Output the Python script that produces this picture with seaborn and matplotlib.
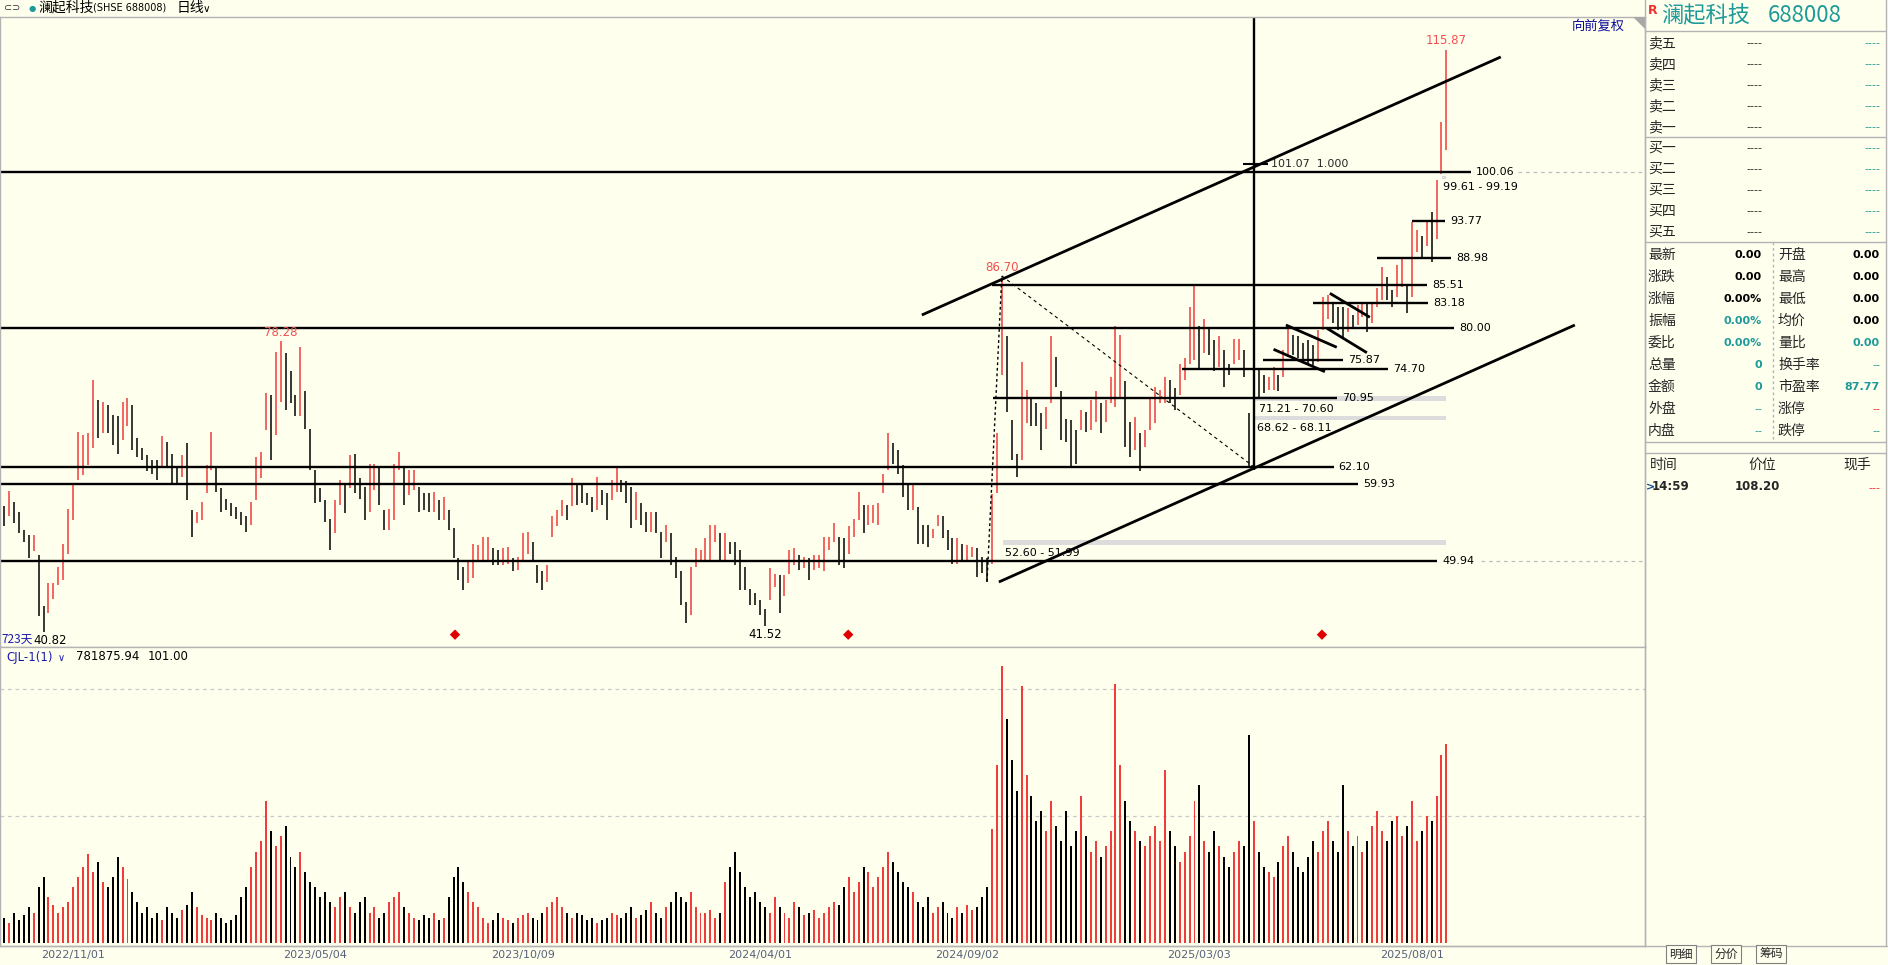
import numpy as np
import pandas as pd
import matplotlib
matplotlib.use("Agg")
import matplotlib.pyplot as plt
from matplotlib.lines import Line2D
from matplotlib.patches import Polygon
import seaborn as sns

# ---------------- data ----------------
lows = [
    54.4, 55.7, 54.8, 53.5, 52.4, 50.3, 51.2, 42.8, 40.82, 43.2, 45.1, 46.9, 47.5, 50.9, 55.2, 60.4, 61.0, 62.3, 64.5, 65.8,
    66.4, 66.4, 64.9, 63.8, 65.5, 67.3, 64.3, 63.4, 63.0, 61.5, 61.2, 60.4, 62.1, 61.9, 60.0, 59.7, 60.8, 57.8, 53.1, 54.8,
    55.2, 58.7, 61.7, 58.9, 56.3, 56.5, 55.7, 55.4, 54.6, 53.7, 54.6, 57.8, 60.6, 66.8, 63.0, 66.2, 70.5, 69.4, 70.3, 68.6,
    68.6, 67.0, 61.7, 57.4, 57.6, 55.0, 51.4, 53.5, 57.2, 56.1, 59.3, 58.7, 58.0, 55.2, 56.3, 59.1, 57.2, 53.9, 53.9, 55.2,
    61.7, 57.2, 58.5, 59.1, 56.3, 56.5, 56.3, 56.3, 55.2, 55.2, 53.9, 50.3, 47.5, 46.2, 47.1, 47.7, 50.1, 50.1, 50.1, 49.4,
    49.4, 49.4, 49.6, 48.6, 48.8, 50.1, 50.9, 50.1, 47.1, 46.2, 47.3, 53.1, 54.4, 55.7, 55.2, 57.0, 57.2, 57.4,
    57.2, 56.3, 56.5, 57.2, 55.2, 57.8, 58.9, 58.9, 57.4, 54.2, 55.2, 54.6, 53.7, 53.7, 53.5, 50.3, 52.4, 49.4, 47.7, 44.3,
    41.9, 43.0, 49.2, 50.1, 50.1, 50.1, 52.4, 50.1, 50.1, 50.9, 49.4, 46.2, 46.2, 44.3, 44.3, 43.0, 41.52, 44.9, 46.6, 43.2,
    45.4, 48.3, 49.4, 48.8, 49.0, 47.5, 48.8, 49.0, 48.6, 51.4, 52.4, 49.4, 49.0, 50.9, 53.1, 55.2, 53.5, 54.6,
    54.8, 54.6, 58.7, 61.7, 62.5, 61.2, 58.2, 56.5, 56.5, 52.2, 52.2, 51.8, 52.9, 54.4, 52.9, 51.4, 49.6, 49.6, 49.9, 50.1,
    50.5, 47.9, 48.4, 47.3, 49.6, 58.7, 73.9, 69.2, 63.0, 60.8, 63.0, 67.7, 67.3, 67.3, 64.3, 67.0, 70.3, 72.4, 65.5, 65.3,
    62.1, 62.5, 66.8, 66.6, 66.8, 67.9, 66.4, 67.9, 70.3, 69.8, 71.1, 64.7, 63.4, 64.3, 61.5, 64.7, 66.8, 67.7, 70.3, 70.3,
    70.3, 69.4, 71.3, 73.3, 75.4, 75.9, 74.6, 76.7, 76.5, 74.4, 75.0, 72.4, 73.9, 75.4, 75.9, 73.7, 62.1, 72.6, 71.1, 71.6,
    72.0, 72.0, 71.8, 73.7, 76.3, 76.5, 76.1, 75.9, 75.4, 75.2, 75.6, 79.7, 81.2, 80.6, 79.7, 78.6, 79.5, 79.9, 80.4, 81.4,
    79.5, 80.6, 82.7, 83.6, 83.6, 82.7, 84.0, 85.3, 81.9, 84.0, 89.8, 89.0, 90.5, 88.5, 91.4, 99.9, 102.9,
]
highs = [
    57.0, 59.0, 57.6, 56.3, 54.0, 53.3, 53.3, 50.7, 44.1, 47.1, 47.1, 49.2, 52.2, 56.7, 59.7, 66.6, 66.2, 66.4, 73.3, 70.7,
    70.5, 70.1, 68.8, 68.6, 70.5, 70.9, 70.1, 65.8, 64.5, 63.6, 63.0, 63.0, 66.0, 65.3, 63.8, 62.1, 63.6, 65.1, 56.5, 56.3,
    57.6, 62.3, 66.6, 61.9, 59.3, 58.0, 57.4, 56.9, 56.3, 55.7, 57.6, 63.4, 64.0, 71.6, 71.3, 76.9, 78.28, 76.7, 74.4, 71.3,
    77.6, 71.8, 67.0, 61.7, 59.3, 57.8, 55.4, 57.8, 60.4, 60.0, 63.6, 63.8, 60.6, 59.5, 62.5, 62.5, 62.1, 56.5, 56.7, 62.5,
    64.0, 62.1, 61.7, 61.7, 59.5, 58.7, 58.7, 58.9, 57.8, 58.2, 56.5, 54.2, 50.3, 49.2, 50.1, 52.2, 52.0, 53.1, 53.1, 51.6,
    51.4, 51.6, 51.8, 50.3, 50.5, 53.5, 53.7, 52.4, 49.4, 48.6, 49.4, 55.7, 56.5, 57.8, 57.2, 60.6, 60.0, 59.7,
    58.7, 58.2, 60.8, 59.1, 58.7, 60.4, 62.1, 60.4, 60.2, 59.5, 58.9, 57.4, 56.3, 56.3, 56.3, 53.7, 54.6, 53.5, 50.5, 48.6,
    44.7, 49.2, 51.6, 51.4, 52.9, 54.6, 54.6, 53.5, 53.5, 52.4, 52.4, 51.4, 49.2, 46.4, 45.8, 44.9, 43.8, 49.0, 48.3, 48.1,
    48.1, 51.4, 51.6, 50.7, 50.5, 50.3, 50.7, 50.7, 53.1, 53.1, 54.8, 53.1, 52.9, 54.4, 55.4, 58.9, 57.2, 57.2,
    57.2, 57.4, 61.2, 66.4, 65.1, 64.2, 62.3, 59.7, 59.9, 56.9, 54.6, 54.6, 54.1, 55.9, 55.7, 54.0, 52.9, 52.9, 52.2, 52.0,
    51.8, 51.6, 50.5, 50.3, 58.6, 66.4, 86.7, 78.9, 68.1, 63.8, 75.6, 72.0, 71.1, 70.3, 69.0, 69.8, 78.9, 76.3, 71.8, 68.3,
    68.1, 66.8, 69.4, 69.2, 70.7, 71.8, 70.3, 70.7, 73.7, 80.2, 79.1, 73.1, 67.9, 68.5, 66.4, 66.8, 71.1, 72.4, 72.0, 73.7,
    73.3, 72.2, 75.4, 76.1, 82.7, 85.5, 80.2, 81.2, 79.9, 78.4, 78.9, 77.1, 75.4, 78.6, 78.6, 77.1, 69.0, 75.6, 74.6, 73.9,
    73.7, 75.0, 73.9, 77.1, 80.2, 79.1, 78.9, 78.0, 78.4, 77.8, 79.7, 84.0, 84.2, 83.2, 82.7, 82.7, 82.5, 81.7, 83.0, 83.2,
    83.2, 83.4, 85.1, 87.9, 86.6, 84.9, 88.1, 89.0, 85.7, 93.7, 92.6, 91.8, 93.7, 95.0, 99.1, 106.6, 115.87,
]
# volume, in units of 10,000 shares
volumes = [
    10, 8, 12, 9, 11, 14, 12, 22, 26, 18, 15, 12, 14, 16,
    22, 26, 30, 35, 28, 32, 24, 22, 26, 34, 30, 25, 20,
    16, 12, 14, 10, 12, 9, 14, 12, 10, 13, 15, 20, 14, 11, 10, 9, 12, 10, 8, 9, 11,
    18, 22, 30, 36, 40,
    56, 44, 38, 42, 46, 34, 30,
    36, 28, 24, 22, 18, 20, 16, 14, 18, 20,
    14, 12, 16, 18, 12, 14, 10, 12, 16, 18, 20, 14, 12, 10, 9, 11, 10, 12, 9, 10,
    18, 26, 30, 24, 20, 16, 14,
    10, 8, 9, 12, 10, 9, 8, 10, 11, 12, 10, 9, 12, 14, 16, 18, 14, 12, 10, 12, 11, 9, 10, 8, 9, 10, 12, 11, 10,
    12, 14, 10, 11, 13, 16, 12, 10, 14, 16, 20, 18, 16, 20, 14, 12, 12, 13, 10, 12,
    24, 30, 36, 28, 22, 18,
    20, 16, 14, 12, 18, 14, 12, 10, 16, 14, 11, 12, 13, 10, 12, 14, 16, 15,
    22, 26, 20, 24, 30, 28, 22, 26, 30, 36, 32, 28, 24, 22, 20,
    16, 14, 18, 12, 14, 16, 12, 10, 14, 12, 15, 13, 14, 18, 22,
    45, 70, 109, 88,
    72, 60, 101, 66, 58, 48, 52, 44, 56,
    46, 40, 52, 38, 44, 58, 42, 36, 40, 34, 38, 44,
    102,
    70, 56, 48, 44, 40, 38, 42,
    46, 40, 68, 44, 38, 32, 36, 42, 56, 62, 40, 36, 44, 38, 34, 30, 36, 40, 38,
    82,
    48, 36, 30, 28, 26, 32, 38, 42, 36, 30, 28, 34, 40, 36,
    44, 48, 40, 36, 62, 44, 38, 42, 36, 40, 46, 52, 44, 40, 48, 50, 42, 46, 56, 40, 44, 50, 48,
    58, 74, 78.19,
]
tick_idx = [14, 63, 105, 153, 195, 242, 285]
tick_labels = ["2022/11/01", "2023/05/04", "2023/10/09", "2024/04/01",
               "2024/09/02", "2025/03/03", "2025/08/01"]

# support / resistance levels drawn across the chart: (price, end index)
full_levels = [100.06, 80.00, 62.10, 59.93, 49.94]
full_level_end = [297.0, 293.5, 269.2, 274.1, 290.1]
# partial levels: (price, start, end)
part_levels = [85.51, 70.95, 74.70, 75.87, 83.18, 88.98, 93.77]
part_start = [200.0, 200.2, 238.5, 254.9, 265.0, 277.9, 285.0]
part_end = [288.1, 269.8, 280.2, 271.0, 288.3, 292.9, 291.7]
# gap zones: (high, low, start index, label)
gap_hi = [71.21, 68.62, 52.60, 99.61]
gap_lo = [70.60, 68.11, 51.99, 99.19]
gap_start = [253.2, 253.2, 202.2, 291.1]
gap_label_x = [254.1, 253.6, 202.6, 291.3]
# channel lines (index, price)
upper_ch = ([185.8, 303.0], [81.66, 114.93])
lower_ch = ([201.4, 318.0], [47.24, 80.37])
small_lines = [([257.0, 267.4], [77.24, 74.35]), ([259.5, 269.8], [80.37, 77.5]),
               ([267.8, 275.9], [79.95, 76.8]), ([268.4, 276.5], [84.46, 81.37])]
marker_idx = [91.3, 170.9, 266.8]

N = len(lows)
assert len(highs) == N and len(volumes) == N

# ---------------- style ----------------
W, H = 1888, 965
BG = "#FFFFEE"
RED = "#F03C3C"
LRED = "#F25050"
TEAL = "#1E9A9A"
BLUE = "#1A1AA8"
GRAYL = "#B4B4B4"

sns.set_theme(style="white", rc={"axes.facecolor": BG, "figure.facecolor": BG,
                                 "savefig.facecolor": BG})
plt.rcParams["font.family"] = ["DejaVu Sans", "Noto Sans CJK SC"]
CJK = ["Noto Sans CJK SC", "DejaVu Sans"]

fig = plt.figure(figsize=(W / 100, H / 100), dpi=100)


def ftext(x, y, s, **kw):
    kw.setdefault("va", "center")
    return fig.text(x / W, 1 - y / H, s, **kw)


def fline(x0, y0, x1, y1, **kw):
    kw.setdefault("color", GRAYL)
    kw.setdefault("lw", 1)
    fig.add_artist(Line2D([x0 / W, x1 / W], [1 - y0 / H, 1 - y1 / H],
                          transform=fig.transFigure, **kw))


ax = fig.add_axes([0, 1 - 647 / H, 1645 / W, (647 - 17) / H])
axv = fig.add_axes([0, 1 - 946 / H, 1645 / W, (946 - 647) / H])
XL = (-0.81, 332.2)

idx = np.arange(N)
lo = np.array(lows)
hi = np.array(highs)
mid = (lo + hi) / 2
up = np.r_[False, mid[1:] >= mid[:-1]]
cols = np.where(up, RED, "black")

# price bars
ax.vlines(idx, lo, hi, colors=cols, linewidth=1.1)

# full-width levels
for p, e in zip(full_levels, full_level_end):
    ax.hlines(p, XL[0], e, color="black", lw=1.7)
    ax.text(e + 1.0, p, f"{p:.2f}", va="center", ha="left", fontsize=8, color="black")
for p, s, e in zip(part_levels, part_start, part_end):
    ax.hlines(p, s, e, color="black", lw=1.7)
    ax.text(e + 1.0, p, f"{p:.2f}", va="center", ha="left", fontsize=8, color="black")
# dashed extensions
ax.hlines(100.06, 306.5, XL[1], color="#BDBDBD", lw=0.9, linestyles=(0, (3, 3)))
ax.hlines(49.94, 299.0, XL[1], color="#BDBDBD", lw=0.9, linestyles=(0, (3, 3)))

# gap zones
for h_, l_, s, lx in zip(gap_hi, gap_lo, gap_start, gap_label_x):
    ax.fill_between([s, 292.0], l_, h_, color="#DCDCDC", lw=0, zorder=1)
    ax.text(lx, l_ - 0.35, f"{h_:.2f} - {l_:.2f}", va="top", ha="left", fontsize=8, color="black")

# Fibonacci-style vertical marker
ax.vlines(253.0, 61.7, 120.08, color="black", lw=1.7)
ax.hlines(101.07, 250.8, 255.9, color="black", lw=1.5)
ax.text(256.4, 101.1, "101.07  1.000", va="center", ha="left", fontsize=8)

# channels
ax.plot(*upper_ch, color="black", lw=2.0, solid_capstyle="butt")
ax.plot(*lower_ch, color="black", lw=2.0, solid_capstyle="butt")
for xs, ys in small_lines:
    ax.plot(xs, ys, color="black", lw=2.0, solid_capstyle="butt")
ax.plot([199, 202], [47.3, 86.7], color="black", lw=1.0, ls=(0, (2, 2)))
ax.plot([202, 253], [86.7, 62.1], color="black", lw=0.8, ls=(0, (3, 3)))

# markers
sns.scatterplot(x=marker_idx, y=[40.45] * 3, marker="D", s=28, color="#E00000",
                edgecolor="none", ax=ax, legend=False)

# extreme labels
ax.text(56, 78.6, "78.28", color=LRED, ha="center", va="bottom", fontsize=8.5)
ax.text(202, 87.0, "86.70", color=LRED, ha="center", va="bottom", fontsize=8.5)
ax.text(292, 116.2, "115.87", color=LRED, ha="center", va="bottom", fontsize=8.5)
ax.text(9.3, 40.6, "40.82", color="black", ha="center", va="top", fontsize=8.5)
ax.text(154, 41.3, "41.52", color="black", ha="center", va="top", fontsize=8.5)
ax.text(-0.6, 39.9, "723天", color=BLUE, ha="left", va="center", fontsize=8.5, family=CJK)

ax.set_xlim(*XL)
ax.set_ylim(38.86, 120.08)
ax.set_xticks([])
ax.set_yticks([])

# ---------------- volume ----------------
dfv = pd.DataFrame({"idx": idx, "vol": volumes, "dir": np.where(up, "up", "down")})
sns.barplot(data=dfv, x="idx", y="vol", hue="dir", palette={"up": RED, "down": "black"},
            native_scale=True, dodge=False, width=0.4, saturation=1, errorbar=None,
            legend=False, linewidth=0, ax=axv)
for g in (50, 100):
    axv.axhline(g, color="#C8C8C8", lw=0.9, ls=(0, (3, 3)), zorder=0)
axv.set_xlim(*XL)
axv.set_ylim(-1.18, 116.5)
axv.set_yticks([])
axv.set_xticks(tick_idx)
axv.set_xticklabels(tick_labels)
axv.tick_params(axis="x", length=0, pad=3, labelsize=8, labelcolor="#56627C")
axv.set_xlabel("")
axv.set_ylabel("")

for a in (ax, axv):
    for sp in a.spines.values():
        sp.set_color(GRAYL)
        sp.set_linewidth(1)

ftext(6, 657, "CJL-1(1)", color=BLUE, fontsize=8.5)
ftext(58, 658, "∨", color=BLUE, fontsize=7)
ftext(76, 657, "781875.94", color="black", fontsize=8.5)
ftext(148, 657, "101.00", color="black", fontsize=8.5)

# ---------------- header ----------------
ftext(4, 8, "⊂⊃", fontsize=7, color="#333333")
ftext(29, 8, "●", fontsize=6, color=TEAL)
ftext(38, 8, "澜起科技", fontsize=10, family=CJK, color="black")
ftext(93, 8, "(SHSE 688008)", fontsize=7, color="black")
ftext(177, 8, "日线", fontsize=10, family=CJK, color="black")
ftext(203, 9, "∨", fontsize=7.5, color="black")
ftext(1572, 26, "向前复权", fontsize=9.5, family=CJK, color="#0A0A9A")
fig.add_artist(Polygon([[1633 / W, 1 - 17 / H], [1645 / W, 1 - 17 / H], [1645 / W, 1 - 29 / H]],
                       closed=True, transform=fig.transFigure, color="#A8A8A8", lw=0))

# ---------------- right panel ----------------
fline(1645, 0, 1645, 946)
fline(1886, 0, 1886, 946)
for yy in (30.7, 137, 242, 442, 453):
    fline(1645, yy, 1886, yy)
fline(1773, 242, 1773, 442, ls=(0, (2, 2)))
fline(0, 946, 1888, 946)

ftext(1648, 10, "R", fontsize=9, color="#F03030", weight="bold")
ftext(1661, 16, "澜起科技", fontsize=16, family=CJK, color=TEAL)
ftext(1768, 16, "688008", fontsize=16, family=CJK, color=TEAL)

ask_labels = ["卖五", "卖四", "卖三", "卖二", "卖一"]
bid_labels = ["买一", "买二", "买三", "买四", "买五"]
for i, s in enumerate(ask_labels):
    y = 43 + 21.1 * i
    ftext(1648, y, s, fontsize=10, family=CJK)
    ftext(1762, y, "----", fontsize=8, ha="right")
    ftext(1880, y, "----", fontsize=8, ha="right", color=TEAL)
for i, s in enumerate(bid_labels):
    y = 148 + 21 * i
    ftext(1648, y, s, fontsize=10, family=CJK)
    ftext(1762, y, "----", fontsize=8, ha="right")
    ftext(1880, y, "----", fontsize=8, ha="right", color=TEAL)

stat_l_names = ["最新", "涨跌", "涨幅", "振幅", "委比", "总量", "金额", "外盘", "内盘"]
stat_l_vals = ["0.00", "0.00", "0.00%", "0.00%", "0.00%", "0", "0", "--", "--"]
stat_l_cols = ["black", "black", "black", TEAL, TEAL, TEAL, TEAL, TEAL, TEAL]
stat_r_names = ["开盘", "最高", "最低", "均价", "量比", "换手率", "市盈率", "涨停", "跌停"]
stat_r_vals = ["0.00", "0.00", "0.00", "0.00", "0.00", "--", "87.77", "--", "--"]
stat_r_cols = ["black", "black", "black", "black", TEAL, TEAL, TEAL, "#F03030", TEAL]
for i in range(9):
    y = 255 + 22 * i
    ftext(1648, y, stat_l_names[i], fontsize=10, family=CJK)
    ftext(1778, y, stat_r_names[i], fontsize=10, family=CJK)
    lv, rv = stat_l_vals[i], stat_r_vals[i]
    ftext(1762, y, lv, fontsize=8, ha="right", color=stat_l_cols[i],
          weight="normal" if lv == "--" else "bold")
    ftext(1880, y, rv, fontsize=8, ha="right", color=stat_r_cols[i],
          weight="normal" if rv == "--" else "bold")

ftext(1650, 465, "时间", fontsize=10, family=CJK)
ftext(1762, 465, "价位", fontsize=10, family=CJK, ha="center")
ftext(1857, 465, "现手", fontsize=10, family=CJK, ha="center")
ftext(1646, 487, ">", fontsize=8, color="#0A4A8A", weight="bold")
ftext(1652, 487, "14:59", fontsize=8.5, weight="bold")
ftext(1757, 487, "108.20", fontsize=8.5, weight="bold", ha="center")
ftext(1880, 488, "---", fontsize=8, ha="right", color="#F03030")

for cx, s in zip([1681, 1726, 1771], ["明细", "分价", "筹码"]):
    ftext(cx, 954, s, fontsize=8.5, family=CJK, ha="center",
          bbox=dict(boxstyle="square,pad=0.25", fc=BG, ec="#808080", lw=0.8))

fig.savefig("out.png", dpi=100, facecolor=BG)
